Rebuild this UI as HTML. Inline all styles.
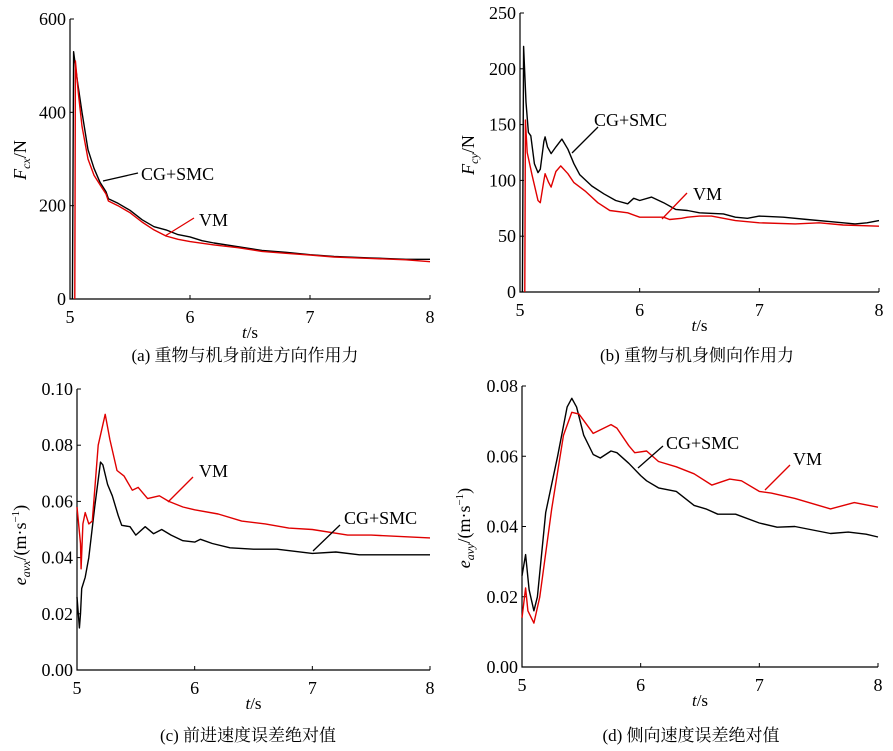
<!DOCTYPE html>
<html><head><meta charset="utf-8">
<style>
html,body{margin:0;padding:0;background:#fff;}
svg{display:block;font-family:"Liberation Serif","Noto Serif CJK SC",serif;}
</style></head>
<body>
<svg id="chart" width="893" height="751" viewBox="0 0 893 751" xmlns="http://www.w3.org/2000/svg"></svg>
<script>
// Panel (a)
const aBlackT=[5.02,5.03,5.06,5.1,5.15,5.2,5.25,5.3,5.32,5.4,5.5,5.6,5.7,5.8,5.9,6.0,6.1,6.2,6.4,6.6,6.8,7.0,7.2,7.5,7.8,8.0];
const aBlackV=[0,530,470,400,320,280,250,230,215,205,190,170,155,148,138,133,125,120,112,104,100,95,91,88,85,85];
const aRedT=[5.04,5.045,5.07,5.1,5.15,5.2,5.25,5.3,5.32,5.4,5.5,5.6,5.7,5.8,5.9,6.0,6.2,6.4,6.6,6.8,7.0,7.2,7.5,7.8,8.0];
const aRedV=[0,510,440,370,300,265,245,225,210,200,185,165,148,135,128,123,116,110,102,98,94,90,87,84,80];
const aTicks=[0,200,400,600];
// Panel (b)
const bBlackT=[5.02,5.03,5.05,5.07,5.09,5.12,5.15,5.17,5.2,5.21,5.23,5.26,5.3,5.35,5.4,5.45,5.5,5.6,5.7,5.8,5.9,5.95,6.0,6.1,6.2,6.3,6.4,6.5,6.7,6.8,6.9,7.0,7.2,7.4,7.6,7.8,7.9,8.0];
const bBlackV=[0,220,170,143,140,115,107,110,135,139,130,124,130,137,128,115,105,95,88,82,79,84,82,85,80,74,73,71,70,67,66,68,67,65,63,61,62,64];
const bRedT=[5.04,5.045,5.06,5.1,5.15,5.17,5.2,5.21,5.24,5.26,5.3,5.34,5.4,5.45,5.55,5.65,5.75,5.9,6.0,6.2,6.25,6.35,6.4,6.5,6.6,6.8,7.0,7.3,7.5,7.7,8.0];
const bRedV=[0,154,125,105,82,80,100,106,98,94,108,113,106,98,90,80,73,71,67,67,65,66,67,68,68,64,62,61,62,60,59];
const bTicks=[0,50,100,150,200,250];
// Panel (c)
const cBlackT=[5.0,5.02,5.03,5.04,5.07,5.1,5.15,5.2,5.22,5.26,5.3,5.35,5.38,5.45,5.5,5.58,5.65,5.72,5.8,5.9,6.0,6.05,6.15,6.3,6.5,6.7,7.0,7.2,7.4,7.6,8.0];
const cBlackV=[0.026,0.015,0.02,0.029,0.033,0.04,0.058,0.074,0.073,0.066,0.062,0.055,0.0515,0.051,0.048,0.051,0.0485,0.05,0.048,0.046,0.0455,0.0465,0.045,0.0435,0.043,0.043,0.0415,0.042,0.041,0.041,0.041];
const cRedT=[5.0,5.03,5.035,5.05,5.07,5.1,5.13,5.18,5.24,5.28,5.34,5.4,5.47,5.52,5.6,5.7,5.78,5.9,6.0,6.2,6.4,6.6,6.8,7.0,7.3,7.5,8.0];
const cRedV=[0.058,0.045,0.036,0.052,0.056,0.052,0.053,0.08,0.091,0.082,0.071,0.069,0.064,0.065,0.061,0.062,0.06,0.058,0.057,0.0555,0.053,0.052,0.0505,0.05,0.048,0.048,0.047];
const cTicks=[0,0.02,0.04,0.06,0.08,0.10];
// Panel (d)
const dBlackT=[5.0,5.03,5.06,5.1,5.13,5.2,5.3,5.38,5.42,5.46,5.52,5.6,5.66,5.75,5.8,5.9,6.0,6.05,6.15,6.3,6.45,6.55,6.65,6.8,7.0,7.15,7.3,7.45,7.6,7.75,7.9,8.0];
const dBlackV=[0.026,0.032,0.022,0.016,0.02,0.044,0.06,0.074,0.0765,0.074,0.066,0.0605,0.0595,0.0615,0.061,0.058,0.0545,0.053,0.051,0.05,0.046,0.045,0.0435,0.0435,0.041,0.0398,0.04,0.039,0.038,0.0384,0.0378,0.037];
const dRedT=[5.0,5.03,5.05,5.1,5.15,5.25,5.35,5.42,5.48,5.6,5.75,5.8,5.9,5.95,6.05,6.15,6.3,6.45,6.6,6.75,6.85,7.0,7.1,7.3,7.5,7.6,7.8,8.0];
const dRedV=[0.014,0.0225,0.016,0.0125,0.02,0.045,0.066,0.0725,0.072,0.0665,0.069,0.068,0.063,0.061,0.0615,0.0585,0.057,0.055,0.0518,0.0535,0.053,0.05,0.0495,0.048,0.046,0.045,0.0468,0.0455];
const dTicks=[0,0.02,0.04,0.06,0.08];
const xTicks=[5,6,7,8];

const NS="http://www.w3.org/2000/svg";
const svg=document.getElementById('chart');
function mk(tag,attrs,parent){const e=document.createElementNS(NS,tag);for(const k in attrs)e.setAttribute(k,attrs[k]);(parent||svg).appendChild(e);return e;}

function panel(cfg){
  const g=mk('g',{});
  
  
  const sx=t=>cfg.x0+(t-5)/3*(cfg.x1-cfg.x0);
  const sy=v=>cfg.y0-(v-cfg.ymin)/(cfg.ymax-cfg.ymin)*(cfg.y0-cfg.y1);
  const ax=mk('path',{d:`M${cfg.x0},${cfg.y1} L${cfg.x0},${cfg.y0} L${cfg.x1},${cfg.y0}`,fill:'none',stroke:'#000','stroke-width':1.2},g);
  
  
  cfg.yt.forEach(v=>{
    const y=sy(v);
    mk('line',{x1:cfg.x0,y1:y,x2:cfg.x0+4,y2:y,stroke:'#000','stroke-width':1},g);
    const t=mk('text',{x:cfg.x0-4,y:y+6,'text-anchor':'end','font-size':18},g);
    t.textContent=cfg.fmt(v);
    
    
  });
  xTicks.forEach(v=>{
    const x=sx(v);
    mk('line',{x1:x,y1:cfg.y0,x2:x,y2:cfg.y0-4,stroke:'#000','stroke-width':1},g);
    const t=mk('text',{x:x,y:cfg.y0+24,'text-anchor':'middle','font-size':18},g);
    t.textContent=v;
    
    
  });
  const xt=mk('text',{x:(cfg.x0+cfg.x1)/2,y:cfg.y0+39,'text-anchor':'middle','font-size':17},g);
  xt.innerHTML='<tspan font-style="italic">t</tspan>/s';
  
  
  const yt=mk('text',{transform:`translate(${cfg.ytx},${cfg.yty}) rotate(-90)`,'text-anchor':'middle','font-size':18},g);
  yt.innerHTML=cfg.ytitle;
  
  
  const cap=mk('text',{x:cfg.capx,y:cfg.capy,'text-anchor':'middle','font-size':17},g);
  cap.textContent=cfg.caption;
  
  
  [[cfg.bt,cfg.bv,'#000','series-cg-smc'],[cfg.rt,cfg.rv,'#e00000','series-vm']].forEach(([T,V,c,n])=>{
    const d=T.map((t,i)=>(i?'L':'M')+sx(t).toFixed(1)+','+sy(V[i]).toFixed(1)).join(' ');
    const p=mk('path',{d:d,fill:'none',stroke:c,'stroke-width':1.4,'stroke-linejoin':'round'},g);
    
    
  });
  cfg.labels.forEach(l=>{
    const ln=mk('line',{x1:l.lx1,y1:l.ly1,x2:l.lx2,y2:l.ly2,stroke:l.c,'stroke-width':1.3},g);
    
    
    const t=mk('text',{x:l.tx,y:l.ty,'font-size':18},g);
    t.textContent=l.text;
    
    
  });
}
const f0=v=>String(v), f2=v=>v.toFixed(2);
panel({name:'panel-a',x0:70,x1:430,y0:299,y1:19,ymin:0,ymax:600,yt:aTicks,fmt:f0,
  bt:aBlackT,bv:aBlackV,rt:aRedT,rv:aRedV,ytx:26,yty:160,
  ytitle:'<tspan font-style="italic">F</tspan><tspan font-style="italic" font-size="12" dy="4">cx</tspan><tspan dy="-4">/N</tspan>',
  caption:'(a) 重物与机身前进方向作用力',capx:245,capy:361,
  labels:[{lx1:103,ly1:181,lx2:138,ly2:173,c:'#000',tx:141,ty:180,text:'CG+SMC'},
          {lx1:165,ly1:236,lx2:194,ly2:218,c:'#e00000',tx:199,ty:226,text:'VM'}]});
panel({name:'panel-b',x0:520,x1:879,y0:292,y1:13,ymin:0,ymax:250,yt:bTicks,fmt:f0,
  bt:bBlackT,bv:bBlackV,rt:bRedT,rv:bRedV,ytx:474,yty:155,
  ytitle:'<tspan font-style="italic">F</tspan><tspan font-style="italic" font-size="12" dy="4">cy</tspan><tspan dy="-4">/N</tspan>',
  caption:'(b) 重物与机身侧向作用力',capx:697,capy:361,
  labels:[{lx1:572,ly1:153,lx2:598,ly2:127,c:'#000',tx:594,ty:126,text:'CG+SMC'},
          {lx1:662,ly1:219,lx2:687,ly2:193,c:'#e00000',tx:693,ty:200,text:'VM'}]});
panel({name:'panel-c',x0:77,x1:430,y0:670,y1:389,ymin:0,ymax:0.10,yt:cTicks,fmt:f2,
  bt:cBlackT,bv:cBlackV,rt:cRedT,rv:cRedV,ytx:26,yty:545,
  ytitle:'<tspan font-style="italic">e</tspan><tspan font-style="italic" font-size="12" dy="4">avx</tspan><tspan dy="-4">/(m·s</tspan><tspan font-size="11" dy="-7">−1</tspan><tspan dy="7">)</tspan>',
  caption:'(c) 前进速度误差绝对值',capx:248,capy:741,
  labels:[{lx1:168,ly1:502,lx2:193,ly2:477,c:'#e00000',tx:199,ty:477,text:'VM'},
          {lx1:313,ly1:551,lx2:340,ly2:525,c:'#000',tx:344,ty:524,text:'CG+SMC'}]});
panel({name:'panel-d',x0:522,x1:878,y0:667,y1:386,ymin:0,ymax:0.08,yt:dTicks,fmt:f2,
  bt:dBlackT,bv:dBlackV,rt:dRedT,rv:dRedV,ytx:470,yty:528,
  ytitle:'<tspan font-style="italic">e</tspan><tspan font-style="italic" font-size="12" dy="4">avy</tspan><tspan dy="-4">/(m·s</tspan><tspan font-size="11" dy="-7">−1</tspan><tspan dy="7">)</tspan>',
  caption:'(d) 侧向速度误差绝对值',capx:691,capy:741,
  labels:[{lx1:638,ly1:468,lx2:663,ly2:446,c:'#000',tx:666,ty:449,text:'CG+SMC'},
          {lx1:765,ly1:490,lx2:790,ly2:465,c:'#e00000',tx:793,ty:465,text:'VM'}]});
</script>
</body></html>
